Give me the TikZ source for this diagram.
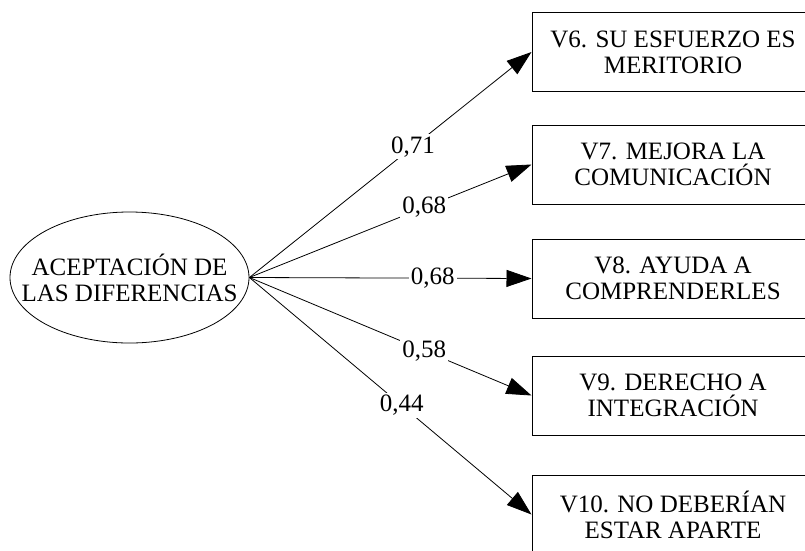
\documentclass[tikz,border=0pt]{standalone}
\usepackage{fontspec}
\setmainfont{Liberation Serif}
\usetikzlibrary{shapes.geometric,arrows.meta}

\begin{document}
\begin{tikzpicture}[x=1pt,y=-1pt,
	every node/.style={font=\fontsize{25}{26}\selectfont},
	varbox/.style={draw, line width=1pt, minimum width=282pt, minimum height=79pt, align=center},
	loading/.style={fill=white, inner sep=2pt}]
\clip (0,0) rectangle (805,550);

%latent
\node[draw, ellipse, line width=0.8pt, minimum width=239pt, minimum height=131pt, inner xsep=-25pt, align=center] (acep) at (129.5,277.5) {ACEPTACIÓN DE\\LAS DIFERENCIAS};

%indicators
\node[varbox] (v6) at (673,52) {V6. SU ESFUERZO ES\\MERITORIO};
\node[varbox] (v7) at (673,164.5) {V7. MEJORA LA\\COMUNICACIÓN};
\node[varbox] (v8) at (673,278.5) {V8. AYUDA A\\COMPRENDERLES};
\node[varbox] (v9) at (673,395.5) {V9. DERECHO A\\INTEGRACIÓN};
\node[varbox] (v10) at (673,514.5) {V10. NO DEBERÍAN\\ESTAR APARTE};

%loadings
\foreach \v/\p/\w in {v6/.58/0{,}71, v7/.62/0{,}68, v8/.65/0{,}68, v9/.62/0{,}58, v10/.54/0{,}44} {
	\draw[line width=0.8pt][-{Triangle[length=25pt,width=17pt]}] (acep.east) -- (\v.west) node[pos=\p, loading] {\w};
}
\end{tikzpicture}
\end{document}
